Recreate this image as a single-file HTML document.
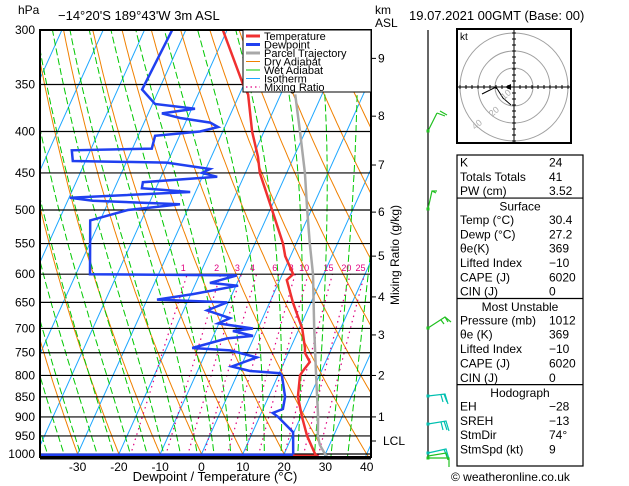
<!DOCTYPE html>
<html><head><meta charset="utf-8">
<style>
body{margin:0;background:#fff;width:629px;height:486px;overflow:hidden;font-family:"Liberation Sans",sans-serif}
svg{display:block}
text{font-family:"Liberation Sans",sans-serif;font-size:12px;fill:#000}
</style></head>
<body>
<svg id="chart" width="629" height="486" viewBox="0 0 629 486" xmlns="http://www.w3.org/2000/svg">
<defs><clipPath id="plotclip"><rect x="40" y="30" width="331" height="428"/></clipPath></defs>
<rect width="629" height="486" fill="#fff"/>
<g id="bg" clip-path="url(#plotclip)"></g>
<g id="grid"></g>
<g id="profiles" clip-path="url(#plotclip)"></g>
<g id="axes"></g>
<text x="18" y="14">hPa</text>
<text x="58" y="20" style="font-size:13px">−14°20'S  189°43'W  3m  ASL</text>
<text x="375" y="14">km</text>
<text x="375" y="27">ASL</text>
<text x="409" y="20" style="font-size:13px">19.07.2021  00GMT  (Base: 00)</text>
<text x="215" y="481" text-anchor="middle" style="font-size:13px">Dewpoint / Temperature (°C)</text>
<text transform="translate(399,255) rotate(-90)" text-anchor="middle">Mixing Ratio (g/kg)</text>
<g id="legend">
<rect x="243" y="30" width="128" height="62" fill="#fff" stroke="#000" stroke-width="1"/>
</g>
<g id="right"></g>
<text x="451" y="481" style="font-size:12px">© weatheronline.co.uk</text>
</svg>
<script>
// ---- data ----
const tempP = [300,350,360,400,430,450,470,500,550,570,600,610,650,700,740,750,770,790,800,850,900,950,1000,1012];
const tempC = [-41.0,-30.2,-27.9,-22.9,-18.7,-16.5,-13.6,-9.5,-3.2,-1.3,2.6,1.7,5.6,10.7,13.5,14.0,16.2,15.5,15.3,17.1,20.3,23.6,27.5,28.7];
const dewP = [300,355,370,375,380,385,390,395,400,405,420,422,435,437,445,450,455,462,470,475,483,487,492,497,500,515,600,602,615,620,635,645,650,665,680,690,700,705,715,720,740,745,760,780,790,795,800,850,880,890,900,940,1000,1012];
const dewC = [-53.3,-54.1,-49.4,-39.2,-46.7,-41.8,-34.0,-31.6,-35.5,-45.9,-45.3,-64.5,-63.1,-40.2,-29.0,-30.5,-26.4,-43.8,-43.4,-31.3,-59.8,-53.9,-32.4,-39.8,-44.4,-52.4,-46.6,-10.9,-16.6,-9.5,-19.5,-27.6,-10.3,-14.3,-7.9,-10.2,-1.2,-5.8,-0.4,-6.4,-13.8,-4.4,2.9,-2.2,2.7,10.2,10.9,14.0,14.8,12.8,14.5,19.8,22.2,22.6];
const parcelP = [360,400,450,500,550,600,700,800,900,950,975,1000,1012];
const parcelC = [-16.5,-11.3,-5.6,-1.0,3.3,7.4,13.6,19.2,24.2,26.2,27.7,29.9,31.1];
const pressureTicks = [300,350,400,450,500,550,600,650,700,750,800,850,900,950,1000];
const tempTicks = [-30,-20,-10,0,10,20,30,40];
const mixRatios = [1,2,3,4,6,8,10,15,20,25];
const kmLabels = ["9","8","7","6","5","4","3","2","1"];
const kmPressures = [325,383,440,503,570,640,713,800,900];
const isoTemps = [-120,-110,-100,-90,-80,-70,-60,-50,-40,-30,-20,-10,0,10,20,30,40];
const dryThetas = [-40,-30,-20,-10,0,10,20,30,40,50,60,70,80,90,100,110,120,130,140,150,160,170];
const wetStarts = [-36,-32,-28,-24,-20,-16,-12,-8,-4,0,4,8,12,16,20,24,28,32,36];
const tableRows = [["K","24"],["Totals Totals","41"],["PW (cm)","3.52"],["Surface",""],["Temp (°C)","30.4"],["Dewp (°C)","27.2"],["θe(K)","369"],["Lifted Index","−10"],["CAPE (J)","6020"],["CIN (J)","0"],["Most Unstable",""],["Pressure (mb)","1012"],["θe (K)","369"],["Lifted Index","−10"],["CAPE (J)","6020"],["CIN (J)","0"],["Hodograph",""],["EH","−28"],["SREH","−13"],["StmDir","74°"],["StmSpd (kt)","9"]];

// ---- axis functions ----
const NS="http://www.w3.org/2000/svg";
function D(p){return 352*Math.log(1000/p);}
function Y(p){return 454-D(p);}
function X(t,p){return 201.5+4.13*t+0.45*D(p);}
function el(tag,attrs,parent){const e=document.createElementNS(NS,tag);for(const k in attrs)e.setAttribute(k,attrs[k]);parent.appendChild(e);return e;}
const bgG=document.getElementById('bg'),gridG=document.getElementById('grid'),profG=document.getElementById('profiles'),axesG=document.getElementById('axes'),rightG=document.getElementById('right'),legendG=document.getElementById('legend');
function pathFrom(ps,ts){return ps.map((p,i)=>(i?'L':'M')+X(ts[i],p).toFixed(1)+','+Y(p).toFixed(1)).join('');}
const pLevels=[];for(let p=1020;p>=290;p-=5)pLevels.push(p);

isoTemps.forEach(t=>{
  const l=el('line',{x1:X(t,1020),y1:Y(1020),x2:X(t,290),y2:Y(290),stroke:'#1ea7ff','stroke-width':1},bgG);
  
  
});
dryThetas.forEach(th=>{
  const ts=pLevels.map(p=>(th+273.15)*Math.pow(p/1000,0.286)-273.15);
  const l=el('path',{d:pathFrom(pLevels,ts),fill:'none',stroke:'#f08000','stroke-width':1},bgG);
  
  
});
function es(t){return 6.112*Math.exp(17.67*t/(t+243.5));}
wetStarts.forEach(t0=>{
  let t=t0;const ps=[],ts=[];
  for(let p=1020;p>=290;p-=5){
    ps.push(p);ts.push(t);
    const T=t+273.15,rs=0.622*es(t)/(p-es(t));
    const dTdp=(287*T+2.5e6*rs)/(p*(1004+2.5e6*2.5e6*rs*0.622/(287*T*T)));
    t-=dTdp*5;
  }
  const l=el('path',{d:pathFrom(ps,ts),fill:'none',stroke:'#00c800','stroke-width':1,'stroke-dasharray':'7,3'},bgG);
  
  
});
mixRatios.forEach(w=>{
  const ps=[],ts=[];
  for(let p=1020;p>=600;p-=10){const e=w*p/(622+w);const a=Math.log(e/6.112);ps.push(p);ts.push(243.5*a/(17.67-a));}
  const l=el('path',{d:pathFrom(ps,ts),fill:'none',stroke:'#e0007f','stroke-width':1.2,'stroke-dasharray':'1.5,4'},bgG);
  
  
  const tx=el('text',{x:X(ts[ts.length-1],600)-4,y:271,'text-anchor':'middle',style:'font-size:9px;fill:#e0007f'},bgG);
  tx.textContent=String(w);
  
  
});
pressureTicks.forEach(p=>{
  const l=el('line',{x1:40,x2:371,y1:Y(p),y2:Y(p),stroke:'#000','stroke-width':1.2},gridG);
  
  
  const t=el('text',{x:35,y:Y(p)+4,'text-anchor':'end'},axesG);
  t.textContent=String(p);
  
  
});
tempTicks.forEach(v=>{
  const t=el('text',{x:X(v,1000),y:471,'text-anchor':'middle',style:'font-size:12px'},axesG);
  t.textContent=String(v);
  
  
});
kmPressures.forEach((p,i)=>{
  el('line',{x1:371,x2:376,y1:Y(p),y2:Y(p),stroke:'#000'},axesG);
  const t=el('text',{x:378,y:Y(p)+4},axesG);
  t.textContent=kmLabels[i];
  
  
});
el('line',{x1:371,x2:376,y1:441,y2:441,stroke:'#000'},axesG);
const lcl=el('text',{x:383,y:445},axesG);lcl.textContent='LCL';


const fr=el('rect',{x:40,y:30,width:331,height:427,fill:'none',stroke:'#000','stroke-width':2},axesG);


el('line',{x1:40,x2:371,y1:458,y2:458,stroke:'#000','stroke-width':3},axesG);

const pp=el('path',{d:pathFrom(parcelP,parcelC),fill:'none',stroke:'#a8a8a8','stroke-width':2.5},profG);


const tp=el('path',{d:pathFrom(tempP,tempC),fill:'none',stroke:'#f03030','stroke-width':2.5},profG);


const dp=el('path',{d:pathFrom(dewP,dewC),fill:'none',stroke:'#2040f0','stroke-width':2.5},profG);


const sfcT=el('line',{x1:X(tempC[tempC.length-2],1000)-25,x2:X(tempC[tempC.length-1],1012),y1:456,y2:456,stroke:'#f03030','stroke-width':3},profG);


const sfcD=el('line',{x1:40,x2:X(dewC[dewC.length-1],1012),y1:455,y2:455,stroke:'#2040f0','stroke-width':3},profG);



const legItems=[['Temperature','#f03030',3,''],['Dewpoint','#2040f0',3,''],['Parcel Trajectory','#a8a8a8',3,''],['Dry Adiabat','#f08000',1,''],['Wet Adiabat','#00c800',1,''],['Isotherm','#1ea7ff',1,''],['Mixing Ratio','#e0007f',1.2,'1.5,3']];
legItems.forEach((it,i)=>{
  const y=36+i*8.5;
  el('line',{x1:246,x2:260,y1:y,y2:y,stroke:it[1],'stroke-width':it[2],'stroke-dasharray':it[3]||'none'},legendG);
  const t=el('text',{x:264,y:y+4,style:'font-size:11px'},legendG);
  t.textContent=it[0];
  
  
});

el('line',{x1:428,x2:428,y1:30,y2:458,stroke:'#000','stroke-width':1.2},rightG);
const barbs=[[131,'#20c020','M428,131 L437,113 M437,113 L445,116 M440,111 L447,115'],[209,'#20c020','M428,209 L432,191 L437,191 M432,191 L436,193'],[328,'#20c020','M428,328 L445,317 L451,322 M445,317 L448,322 M441,320 L444,324'],[396,'#00c0b0','M428,396 L445,394 L448,404 M444,394 L447,402 M441,395 L443,402'],[424,'#00c0b0','M428,424 L446,421 L449,431 M444,421 L447,430 M441,422 L443,430'],[453,'#00c0b0','M428,453 L446,449 L449,459 M444,449 L447,457'],[458,'#20c020','M428,458 L449,458 L449,467 M428,456 L446,453 L448,460']];
barbs.forEach(b=>{
  const g=el('path',{d:b[2],fill:'none',stroke:b[1],'stroke-width':1.2},rightG);
  
  
  el('rect',{x:426.5,y:b[0]-1.5,width:3,height:3,fill:b[1]},rightG);
});

const hg=el('g',{},rightG);


el('rect',{x:457,y:29,width:114,height:114,fill:'#fff',stroke:'#000','stroke-width':2},hg);
[19,36,54].forEach(r=>el('circle',{cx:514,cy:87,r:r,fill:'none',stroke:'#a0a0a0','stroke-width':1},hg));
el('line',{x1:458,x2:570,y1:87,y2:87,stroke:'#000'},hg);
el('line',{x1:514,x2:514,y1:30,y2:142,stroke:'#000'},hg);
for(let i=-9;i<=9;i++){if(!i)continue;el('line',{x1:514+i*6,x2:514+i*6,y1:85,y2:89,stroke:'#000'},hg);el('line',{x1:512,x2:516,y1:87+i*6,y2:87+i*6,stroke:'#000'},hg);}
el('path',{d:'M482,94 L490,90 L496,87 L503,98 L511,105',fill:'none',stroke:'#000'},hg);
el('path',{d:'M505,87 L511,84 L511,90 Z',fill:'#000'},hg);
const kt=el('text',{x:460,y:40,style:'font-size:10px'},hg);kt.textContent='kt';
[['10',504,100],['20',492,117],['40',475,130]].forEach(a=>{const t=el('text',{x:a[1],y:a[2],transform:'rotate(-40 '+a[1]+' '+a[2]+')',style:'font-size:9px;fill:#aaa'},hg);t.textContent=a[0];});

const tb=el('g',{},rightG);


const rowH=14.35,tableTop=155;
el('rect',{x:457,y:tableTop,width:126,height:311,fill:'none',stroke:'#000','stroke-width':1.2},tb);
tableRows.forEach((r,i)=>{
  const y=tableTop+rowH*i+11.5;
  if(r[1]===''){
    el('line',{x1:457,x2:583,y1:tableTop+rowH*i,y2:tableTop+rowH*i,stroke:'#000','stroke-width':1.2},tb);
    const t=el('text',{x:520,y:y+1,'text-anchor':'middle',style:'font-size:12px'},tb);t.textContent=r[0];
    
    
  } else {
    const t=el('text',{x:460,y:y,style:'font-size:12px'},tb);t.textContent=r[0];
    
    
    const v=el('text',{x:549,y:y,style:'font-size:12px'},tb);v.textContent=r[1];
    
    
  }
});
</script>
</body></html>
